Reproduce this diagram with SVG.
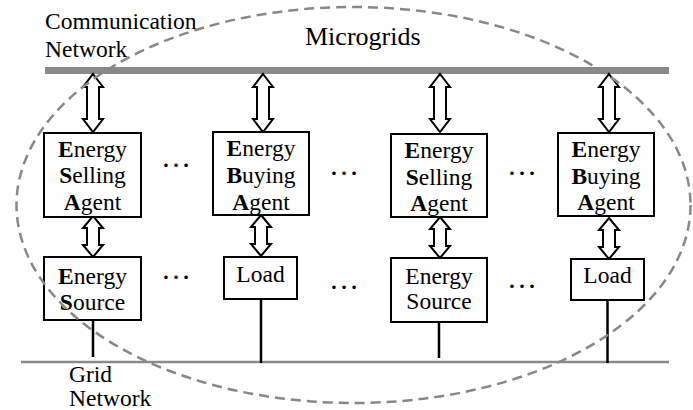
<svg xmlns="http://www.w3.org/2000/svg" width="693" height="410" viewBox="0 0 693 410" font-family="'Liberation Serif', Tinos, 'Times New Roman', Times, serif">
<style>
text{font-family:'Liberation Serif',Tinos,'Times New Roman',Times,serif;fill:#000}
.t{font-size:23.5px}
.c{text-anchor:middle}
.b{font-weight:bold}
.box{fill:#fff;stroke:#000;stroke-width:2}
.arr{fill:#fff;stroke:#000;stroke-width:2;stroke-linejoin:miter}
.wire{stroke:#000;stroke-width:2.5;fill:none}
.dots{font-size:30px;text-anchor:middle}
</style>
<defs>
<polygon id="dTop" class="arr" points="0,0 10,13 6,13 6,45 10,45 0,58 -10,45 -6,45 -6,13 -10,13"/>
<polygon id="dBot" class="arr" points="0,0 10,12 6,12 6,29 10,29 0,41 -10,29 -6,29 -6,12 -10,12"/>
</defs>
<rect width="693" height="410" fill="#fff"/>
<g id="networks">
<rect x="45" y="67" width="624" height="7" fill="#8a8a8a"/>
<line x1="21" y1="362" x2="669" y2="362" stroke="#8a8a8a" stroke-width="2.5"/>
</g>
<g id="labels">
<text class="t" x="45" y="29">Communication</text>
<text class="t" x="45" y="57">Network</text>
<text x="305" y="45" font-size="26">Microgrids</text>
<text class="t" x="69" y="382">Grid</text>
<text class="t" x="69" y="406">Network</text>
<text class="dots" x="176" y="167">…</text>
<text class="dots" x="344" y="175">…</text>
<text class="dots" x="522" y="175">…</text>
<text class="dots" x="176" y="279">…</text>
<text class="dots" x="344" y="289">…</text>
<text class="dots" x="522" y="288">…</text>
</g>
<g id="connectors">
<use href="#dTop" x="93" y="74"/>
<use href="#dTop" x="263" y="74"/>
<use href="#dTop" x="440" y="74"/>
<use href="#dTop" x="609" y="74"/>
<use href="#dBot" x="93" y="216"/>
<use href="#dBot" x="261" y="215"/>
<use href="#dBot" x="440" y="217"/>
<use href="#dBot" x="609" y="218"/>
<line class="wire" x1="93" y1="320" x2="93" y2="357"/>
<line class="wire" x1="261" y1="299" x2="261" y2="363"/>
<line class="wire" x1="439" y1="322" x2="439" y2="358"/>
<line class="wire" x1="607.5" y1="300" x2="607.5" y2="363"/>
</g>
<g id="esa1">
<rect class="box" x="44" y="133" width="97" height="84"/>
<text class="t c" x="92.5" y="157"><tspan class="b">E</tspan>nergy</text>
<text class="t c" x="92.5" y="183"><tspan class="b">S</tspan>elling</text>
<text class="t c" x="92.5" y="210"><tspan class="b">A</tspan>gent</text>
</g>
<g id="eba1">
<rect class="box" x="213" y="132" width="96" height="83"/>
<text class="t c" x="261" y="156"><tspan class="b">E</tspan>nergy</text>
<text class="t c" x="261" y="183"><tspan class="b">B</tspan>uying</text>
<text class="t c" x="261" y="210"><tspan class="b">A</tspan>gent</text>
</g>
<g id="esa2">
<rect class="box" x="391" y="134" width="96" height="83"/>
<text class="t c" x="439" y="158"><tspan class="b">E</tspan>nergy</text>
<text class="t c" x="439" y="185"><tspan class="b">S</tspan>elling</text>
<text class="t c" x="439" y="211"><tspan class="b">A</tspan>gent</text>
</g>
<g id="eba2">
<rect class="box" x="558" y="133" width="96" height="83"/>
<text class="t c" x="606" y="157"><tspan class="b">E</tspan>nergy</text>
<text class="t c" x="606" y="184"><tspan class="b">B</tspan>uying</text>
<text class="t c" x="606" y="210"><tspan class="b">A</tspan>gent</text>
</g>
<g id="source1">
<rect class="box" x="44" y="257" width="97" height="63"/>
<text class="t c" x="92.5" y="284"><tspan class="b">E</tspan>nergy</text>
<text class="t c" x="92.5" y="310"><tspan class="b">S</tspan>ource</text>
</g>
<g id="load1">
<rect class="box" x="224" y="257" width="73" height="42"/>
<text class="t c" x="260.5" y="282">Load</text>
</g>
<g id="source2">
<rect class="box" x="391" y="258" width="96" height="64"/>
<text class="t c" x="439" y="284">Energy</text>
<text class="t c" x="439" y="309">Source</text>
</g>
<g id="load2">
<rect class="box" x="571" y="259" width="73" height="41"/>
<text class="t c" x="607.5" y="283">Load</text>
</g>
<g id="microgrid-boundary">
<ellipse cx="353.5" cy="205" rx="337" ry="198" fill="none" stroke="#888" stroke-width="2.5" stroke-dasharray="10,6"/>
</g>
</svg>
